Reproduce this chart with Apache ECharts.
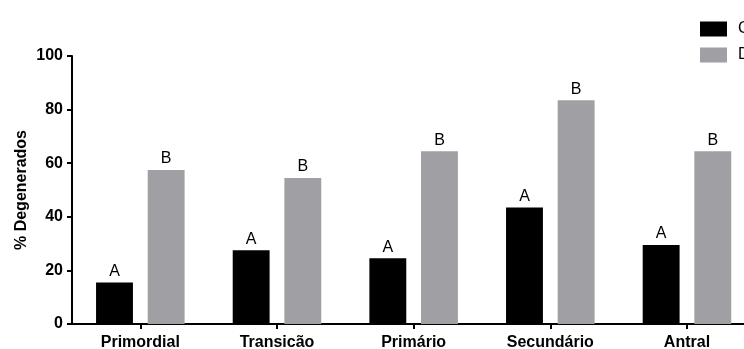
<!DOCTYPE html>
<html>
<head>
<meta charset="utf-8">
<script src="https://cdn.jsdelivr.net/npm/echarts@6/dist/echarts.min.js"></script>
<style>
  html, body { margin: 0; padding: 0; background: #fff; }
  #chart { width: 744px; height: 349px; }
</style>
</head>
<body>
<div id="chart"></div>
<script>
// Follicle stages and % of degenerated follicles per group
const categories = ['Primordial', 'Transicão', 'Primário', 'Secundário', 'Antral'];
const seriesNames = ['Controle', 'Doxorrubicina'];
const controlValues = [15.5, 27.5, 24.5, 43.5, 29.5];
const treatedValues = [57.5, 54.5, 64.5, 83.5, 64.5];
// Significance letters shown above each bar
const controlLetters = ['A', 'A', 'A', 'A', 'A'];
const treatedLetters = ['B', 'B', 'B', 'B', 'B'];
const yTicks = [0, 20, 40, 60, 80, 100];

const FONT = '"Liberation Sans", Arial, sans-serif';
const chart = echarts.init(document.getElementById('chart'), null, { renderer: 'canvas' });

function letterLabel(letters) {
  return {
    show: true,
    position: 'top',
    distance: 3,
    color: '#000',
    fontFamily: FONT,
    fontSize: 16,
    formatter: p => letters[p.dataIndex]
  };
}

chart.setOption({
  animation: false,
  backgroundColor: '#fff',
  legend: {
    data: seriesNames,
    orient: 'vertical',
    left: 695,
    top: 16,
    itemWidth: 27,
    itemHeight: 15,
    itemGap: 10,
    icon: 'rect',
    textStyle: { color: '#000', fontFamily: FONT, fontSize: 16, padding: [0, 0, 0, 6] }
  },
  // the plot area runs past the right edge of the canvas
  grid: { left: 72, width: 683.3, top: 56, bottom: 25, outerBoundsMode: 'none' },
  xAxis: {
    type: 'category',
    data: categories,
    axisLine: { lineStyle: { color: '#000', width: 2 } },
    axisTick: { show: true, alignWithLabel: true, length: 5, lineStyle: { color: '#000', width: 2 } },
    axisLabel: { color: '#000', fontFamily: FONT, fontSize: 16, fontWeight: 'bold', margin: 11 }
  },
  yAxis: {
    type: 'value',
    min: yTicks[0],
    max: yTicks[yTicks.length - 1],
    interval: 20,
    name: '% Degenerados',
    nameLocation: 'middle',
    nameGap: 42,
    nameMoveOverlap: false,
    nameTextStyle: { color: '#000', fontFamily: FONT, fontSize: 16, fontWeight: 'bold' },
    axisLine: { show: true, lineStyle: { color: '#000', width: 2 } },
    axisTick: { show: true, length: 5, lineStyle: { color: '#000', width: 2 } },
    axisLabel: { color: '#000', fontFamily: FONT, fontSize: 16, fontWeight: 'bold', margin: 9 },
    splitLine: { show: false }
  },
  series: [
    {
      name: seriesNames[0],
      type: 'bar',
      data: controlValues,
      barWidth: '27%',
      barGap: '40%',
      itemStyle: { color: '#000' },
      label: letterLabel(controlLetters)
    },
    {
      name: seriesNames[1],
      type: 'bar',
      data: treatedValues,
      barWidth: '27%',
      barGap: '40%',
      itemStyle: { color: '#a09fa4' },
      label: letterLabel(treatedLetters)
    }
  ]
});
</script>
</body>
</html>
